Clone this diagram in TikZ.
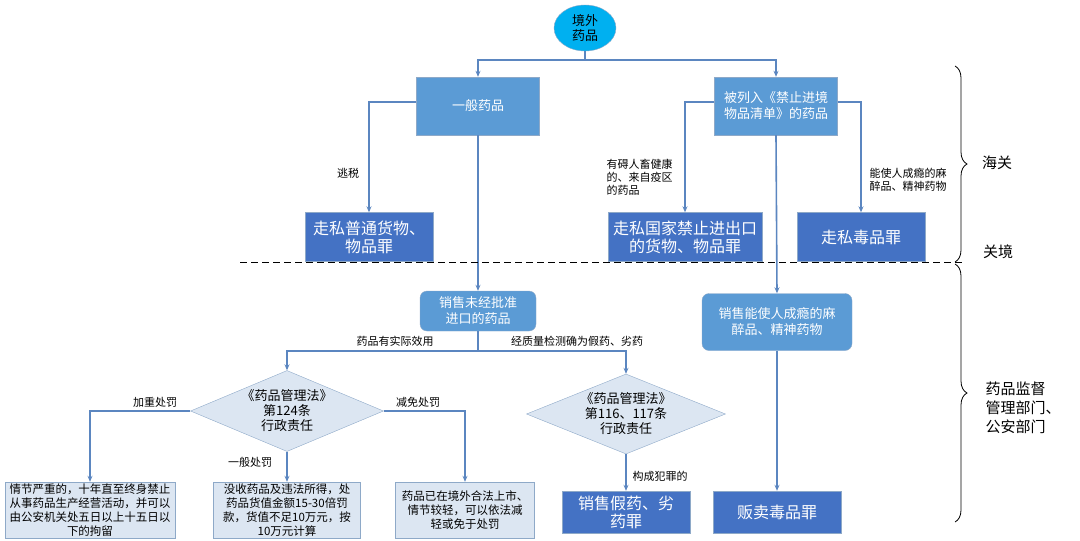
\documentclass[tikz,border=0pt]{standalone}
\usepackage{fontspec}
\setmainfont{Noto Sans CJK SC}
\usetikzlibrary{shapes.geometric,arrows.meta,decorations.pathreplacing}
\definecolor{dk}{HTML}{4472C4}
\definecolor{md}{HTML}{5B9BD5}
\definecolor{ln}{HTML}{5B86C0}
\definecolor{pale}{HTML}{DCE6F2}
\definecolor{pb}{HTML}{8EA9C8}
\definecolor{cy}{HTML}{00B0F0}
\tikzset{
 dkbox/.style={draw=pb,fill=dk,text=white,font=\fontsize{16}{18}\selectfont,align=center,inner sep=0pt},
 mdbox/.style={draw=pb,fill=md,text=white,font=\fontsize{13}{16}\selectfont,align=center,inner sep=0pt},
 rbox/.style={mdbox,rounded corners=7pt},
 pbox/.style={draw=pb,fill=pale,text=black,font=\fontsize{11.5}{14}\selectfont,align=center,inner sep=0pt},
 dia/.style={diamond,draw=pb,fill=pale,aspect=2.4,inner sep=0pt,font=\fontsize{13}{15}\selectfont,align=center},
 lab/.style={font=\fontsize{11}{13}\selectfont,align=left,text=black},
 con/.style={draw=ln,line width=1.6pt,-{Stealth[length=6pt,width=5pt]}},
 ncon/.style={draw=ln,line width=1.6pt},
}
\begin{document}
\begin{tikzpicture}[x=1pt,y=-1pt]
\useasboundingbox (0,0) rectangle (1080,541);
\node[ellipse,fill=cy,draw=pb,minimum width=62pt,minimum height=46pt,inner sep=0pt,align=center,font=\fontsize{13}{15}\selectfont] (root) at (585,28) {境外\\药品};
\node[mdbox,minimum width=123pt,minimum height=58pt] (gen) at (478,106) {一般药品};
\node[mdbox,minimum width=123pt,minimum height=58pt] (ban) at (776,106) {被列入《禁止进境\\物品清单》的药品};
\node[dkbox,minimum width=128pt,minimum height=49pt] (c1) at (369,237) {走私普通货物、\\物品罪};
\node[dkbox,minimum width=154pt,minimum height=49pt] (c2) at (685,237) {走私国家禁止进出口\\的货物、物品罪};
\node[dkbox,minimum width=128pt,minimum height=49pt] (c3) at (861,237) {走私毒品罪};
\node[rbox,minimum width=116pt,minimum height=40pt] (s1) at (478,311) {销售未经批准\\进口的药品};
\node[rbox,minimum width=150pt,minimum height=57pt] (s2) at (777,322) {销售能使人成瘾的麻\\醉品、精神药物};
\node[dia,minimum width=193pt,minimum height=81pt] (d1) at (287,411) {《药品管理法》\\第124条\\行政责任};
\node[dia,minimum width=199pt,minimum height=80pt] (d2) at (626,414) {《药品管理法》\\第116、117条\\行政责任};
\node[pbox,minimum width=170pt,minimum height=56pt] (b1) at (90,510) {情节严重的，十年直至终身禁止\\从事药品生产经营活动，并可以\\由公安机关处五日以上十五日以\\下的拘留};
\node[pbox,minimum width=147pt,minimum height=56pt] (b2) at (287,510) {没收药品及违法所得，处\\药品货值金额15-30倍罚\\款，货值不足10万元，按\\10万元计算};
\node[pbox,minimum width=139pt,minimum height=56pt] (b3) at (465,510) {药品已在境外合法上市、\\情节较轻，可以依法减\\轻或免于处罚};
\node[dkbox,minimum width=128pt,minimum height=42pt] (f1) at (626,512) {销售假药、劣\\药罪};
\node[dkbox,minimum width=128pt,minimum height=42pt] (f2) at (777,512) {贩卖毒品罪};
% connectors
\coordinate (j0) at (585,60);
\draw[ncon] (root.south) -- (j0);
\draw[con] (j0) -| (gen.north);
\draw[con] (j0) -| (ban.north);
\draw[con] (gen.west |- 0,102) -| (c1.north);
\draw[con] (ban.west |- 0,102) -| (c2.north);
\draw[con] (ban.east |- 0,102) -| (c3.north);
\draw[con] (gen.south) -- (s1.north);
\draw[con] (ban.south) -- (s2.north);
\coordinate (j1) at (478,351);
\draw[ncon] (s1.south) -- (j1);
\draw[con] (j1) -| (d1.north);
\draw[con] (j1) -| (d2.north);
\draw[con] (d1.west) -| (b1.north);
\draw[con] (d1.east) -| (b3.north);
\draw[con] (d1.south) -- (b2.north);
\draw[con] (d2.south) -- (f1.north);
\draw[con] (s2.south) -- (f2.north);
% labels
\node[lab] (l1) at (348,173) {逃税};
\node[lab,anchor=west] (l2) at (603,177) {有碍人畜健康\\的、来自疫区\\的药品};
\node[lab,anchor=west] (l3) at (866,180) {能使人成瘾的麻\\醉品、精神药物};
\node[lab] (l4) at (395,341) {药品有实际效用};
\node[lab] (l5) at (577,341) {经质量检测确为假药、劣药};
\node[lab] (l6) at (155,402) {加重处罚};
\node[lab] (l7) at (418,402) {减免处罚};
\node[lab] (l8) at (250,462) {一般处罚};
\node[lab] (l9) at (660,476) {构成犯罪的};
% dashed border
\draw[dashed,line width=1pt,dash pattern=on 7pt off 4pt] (240,262) -- (965,262);
\draw[decorate,decoration={brace,amplitude=12pt},line width=0.8pt] (955,66) -- (955,262);
\draw[decorate,decoration={brace,amplitude=12pt},line width=0.8pt] (955,264) -- (955,522);
\node[font=\fontsize{15}{18}\selectfont] (t1) at (997,163) {海关};
\node[font=\fontsize{15}{18}\selectfont] (t2) at (998,252) {关境};
\node[font=\fontsize{15}{19}\selectfont,align=left,anchor=west] (t3) at (982,408) {药品监督\\管理部门、\\公安部门};
\end{tikzpicture}
\end{document}
